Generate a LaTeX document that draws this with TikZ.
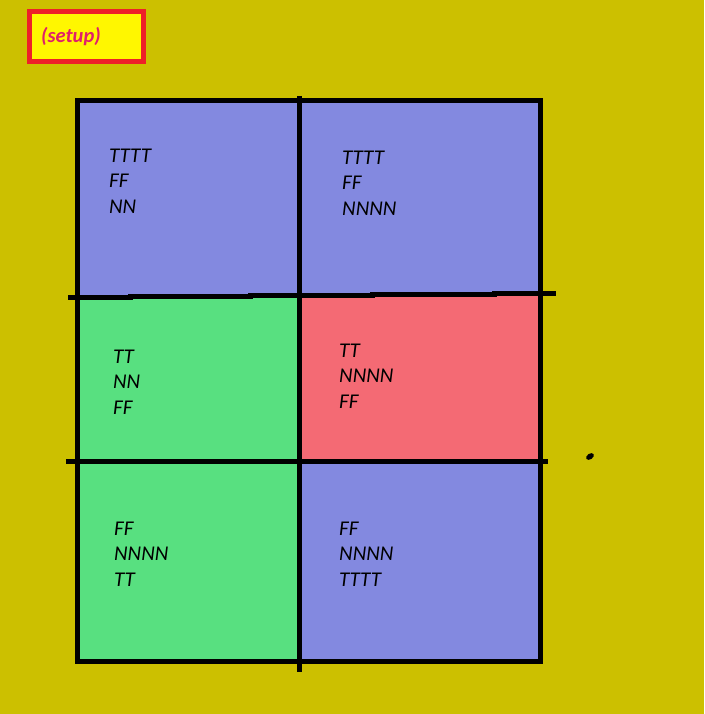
\documentclass[tikz,border=0pt]{standalone}
\usepackage{fontspec}
\setmainfont{Carlito}
\definecolor{bgolive}{HTML}{CCC000}
\definecolor{cellblue}{HTML}{8389E0}
\definecolor{cellgreen}{HTML}{58E080}
\definecolor{cellred}{HTML}{F46A74}
\definecolor{boxred}{HTML}{EE2028}
\definecolor{boxyellow}{HTML}{FFF700}
\definecolor{setuptext}{HTML}{E0206A}
\begin{document}
\begin{tikzpicture}[x=1pt,y=-1pt,
  gridline/.style={line width=5pt,black,line cap=rect},
  celltext/.style={anchor=base west,align=left,inner sep=0pt,font=\fontsize{21}{25.5}\selectfont\itshape,text=black}]
\fill[bgolive] (0,0) rectangle (704,714);
\useasboundingbox (0,0) rectangle (704,714);
% setup box
\node[draw=boxred,line width=5pt,fill=boxyellow,minimum width=114pt,minimum height=50pt,inner sep=0pt] (setup) at (86.5,36.5) {};
\node[anchor=base west,inner sep=0pt,font=\fontsize{20.5}{24}\selectfont\bfseries\itshape,text=setuptext] (setuplabel) at (41,43) {(setup)};
% cells
\fill[cellblue] (77,101) rectangle (299,296);
\fill[cellblue] (299,101) rectangle (540,295);
\fill[cellgreen] (77,296) rectangle (299,461);
\fill[cellred] (299,295) rectangle (540,461);
\fill[cellgreen] (77,461) rectangle (299,661);
\fill[cellblue] (299,461) rectangle (540,661);
% grid
\draw[gridline] (77,101) rectangle (540,661);
\draw[gridline,line cap=butt] (299,96) -- (299,672);
\draw[gridline,line cap=butt] (68,297.5) -- (130,297.5) -- (130,296.5) -- (250,296.5) -- (250,295.5) -- (372,295.5) -- (372,294.5) -- (494,294.5) -- (494,293.5) -- (556,293.5);
\draw[gridline,line cap=butt] (66,461) -- (548,461);
% dot
\fill[black,rotate around={35:(590,456.5)}] (590,456.5) ellipse (4.3pt and 2.8pt);
% texts (anchor = baseline of last line)
\node[celltext] (tl) at (109,213) {TTTT\\FF\\NN};
\node[celltext] (tr) at (342,215) {TTTT\\FF\\NNNN};
\node[celltext] (ml) at (113,414) {TT\\NN\\FF};
\node[celltext] (mr) at (339,408) {TT\\NNNN\\FF};
\node[celltext] (bl) at (114,586) {FF\\NNNN\\TT};
\node[celltext] (br) at (339,586) {FF\\NNNN\\TTTT};
\end{tikzpicture}
\end{document}
